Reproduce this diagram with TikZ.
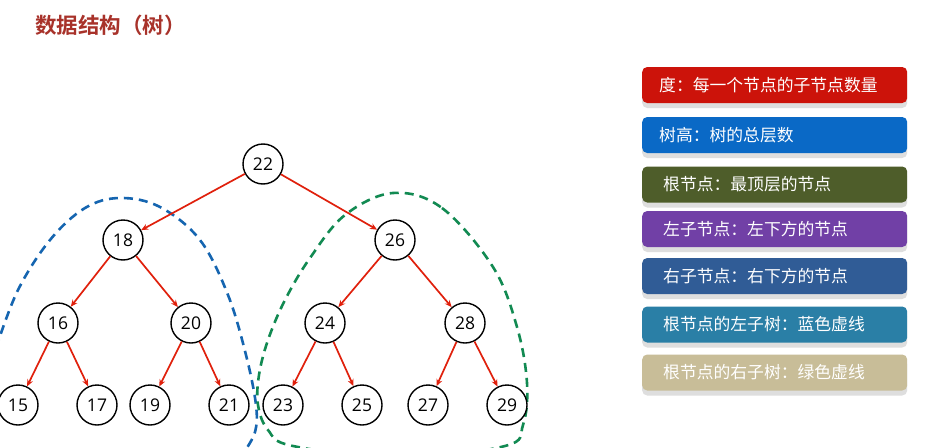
\documentclass[tikz,border=0pt]{standalone}
\usepackage{fontspec}
\setmainfont{Open Sans}
\newfontfamily\cjk{Noto Sans CJK SC}
\newfontfamily\cjkb{Noto Sans CJK SC Bold}
\usetikzlibrary{arrows.meta,shadows}
\definecolor{titlered}{HTML}{A8322A}
\definecolor{arrowred}{HTML}{E0200C}
\definecolor{dblue}{HTML}{1565B0}
\definecolor{dgreen}{HTML}{128A52}
\definecolor{c1}{HTML}{CC130A}
\definecolor{c2}{HTML}{0A69C6}
\definecolor{c3}{HTML}{4E5D2A}
\definecolor{c4}{HTML}{7140A6}
\definecolor{c5}{HTML}{305C96}
\definecolor{c6}{HTML}{2A7FA6}
\definecolor{c7}{HTML}{C8BD98}
\tikzset{
  tn/.style={circle, draw=black, line width=1.4pt, minimum size=40pt, inner sep=0pt, fill=white,
    font=\fontsize{17.5}{18}\selectfont},
  ed/.style={draw=arrowred, line width=1.7pt, -{Stealth[length=7pt,width=6pt]}},
  infobox/.style={anchor=west, rounded corners=5pt, minimum width=265pt, minimum height=36pt,
    inner xsep=17pt, text width=231pt, align=left, text=white,
    font=\cjk\fontsize{16.8}{18}\selectfont,
    general shadow={fill=black!13, shadow yshift=-5pt}},
  subtree/.style={line width=2.6pt, dash pattern=on 9pt off 6pt}
}
\begin{document}
\begin{tikzpicture}[x=1pt,y=-1pt]
\useasboundingbox[fill=white] (0,0) rectangle (942,447);
% title
\node[anchor=west, text=titlered, font=\cjkb\fontsize{21.5}{23}\selectfont, inner sep=0pt] (title) at (35,25) {数据结构（树）};
% subtree outlines
\begin{scope}
\clip (0,0) rectangle (942,447);
\draw[subtree, dblue] plot[smooth, tension=0.6] coordinates {(-4,348) (18,290) (50,240) (85,208) (120,198) (160,207) (200,240) (228,295) (246,355) (256,405) (255,432) (244,452)};
\draw[subtree, dgreen] plot[smooth cycle, tension=0.6] coordinates {(393,193) (442,208) (493,267) (517,327) (527,383) (523,425) (505,446) (400,458) (293,446) (268,430) (258,405) (259,375) (268,340) (285,300) (310,258) (345,215)};
\end{scope}
% tree nodes
\node[tn] (n22) at (263,164) {22};
\node[tn] (n18) at (123,240) {18};
\node[tn] (n26) at (395,240) {26};
\node[tn] (n16) at (58,323) {16};
\node[tn] (n20) at (191,323) {20};
\node[tn] (n24) at (325,323) {24};
\node[tn] (n28) at (465,323) {28};
\node[tn] (n15) at (18,405) {15};
\node[tn] (n17) at (97,405) {17};
\node[tn] (n19) at (150,405) {19};
\node[tn] (n21) at (229,405) {21};
\node[tn] (n23) at (283,405) {23};
\node[tn] (n25) at (362,405) {25};
\node[tn] (n27) at (428,405) {27};
\node[tn] (n29) at (507,405) {29};
% edges
\draw[ed] (n22) -- (n18);
\draw[ed] (n22) -- (n26);
\draw[ed] (n18) -- (n16);
\draw[ed] (n18) -- (n20);
\draw[ed] (n26) -- (n24);
\draw[ed] (n26) -- (n28);
\draw[ed] (n16) -- (n15);
\draw[ed] (n16) -- (n17);
\draw[ed] (n20) -- (n19);
\draw[ed] (n20) -- (n21);
\draw[ed] (n24) -- (n23);
\draw[ed] (n24) -- (n25);
\draw[ed] (n28) -- (n27);
\draw[ed] (n28) -- (n29);
% info boxes
\node[infobox, fill=c1] (b1) at (642,85) {度：每一个节点的子节点数量};
\node[infobox, fill=c2] (b2) at (642,135) {树高：树的总层数};
\node[infobox, fill=c3, inner xsep=21pt, text width=223pt] (b3) at (642,184.5) {根节点：最顶层的节点};
\node[infobox, fill=c4, inner xsep=21pt, text width=223pt] (b4) at (642,229) {左子节点：左下方的节点};
\node[infobox, fill=c5, inner xsep=21pt, text width=223pt] (b5) at (642,276) {右子节点：右下方的节点};
\node[infobox, fill=c6, inner xsep=21pt, text width=223pt] (b6) at (642,324.5) {根节点的左子树：蓝色虚线};
\node[infobox, fill=c7, inner xsep=21pt, text width=223pt] (b7) at (642,372.5) {根节点的右子树：绿色虚线};
\end{tikzpicture}
\end{document}
